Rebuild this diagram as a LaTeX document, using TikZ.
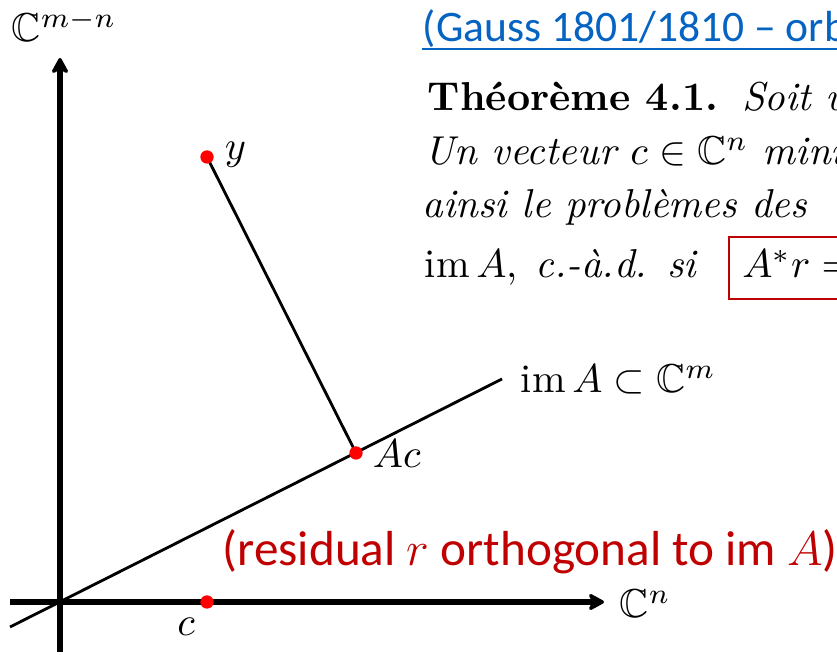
\documentclass[tikz,border=0pt]{standalone}
\usepackage{amsmath,amssymb}
\usepackage{fontspec}
\newfontfamily\slidefont{Carlito}
\definecolor{SlideRed}{RGB}{192,0,0}
\definecolor{LinkBlue}{RGB}{5,99,193}
\definecolor{DotRed}{RGB}{255,0,0}
\usepackage{tikz}
\usetikzlibrary{
    arrows.meta,
    positioning,
}

\begin{document}
\begin{tikzpicture}[
        x=0.248pt, y=-0.248pt,
        axis/.style={line width=1.4pt, -{Stealth[length=4.8pt, width=5.2pt, inset=1.5pt, round]}},
        ptdot/.style={circle, fill=DotRed, inner sep=0pt, minimum size=3.3pt},
        lbl/.style={inner sep=0pt, font=\fontsize{10}{12}\selectfont},
        thmline/.style={anchor=base west, inner sep=0pt, font=\fontsize{10}{12}\selectfont},
        slide/.style={anchor=base west, inner sep=0pt, font=\slidefont\fontsize{#1}{#1}\selectfont},
    ]
        \useasboundingbox (0,0) rectangle (837,655);
        \clip (0,0) rectangle (837,655);
        \coordinate (xfrom) at (10,602);
        \coordinate (xto) at (604,602);
        \coordinate (yfrom) at (60,652);
        \coordinate (yto) at (60,58);
        \coordinate (lfrom) at (10,627);
        \coordinate (lto) at (502,379);
        \coordinate (py) at (207,157);
        \coordinate (pAc) at (356,453);
        \coordinate (pc) at (207,602);
        \draw[axis] (xfrom) -- (xto);
        \draw[axis] (yfrom) -- (yto);
        \draw[line width=0.7pt] (lfrom) -- (lto);
        \draw[line width=0.7pt] (py) -- (pAc);
        \node[ptdot] (ydot) at (py) {};
        \node[ptdot] (Acdot) at (pAc) {};
        \node[ptdot] (cdot) at (pc) {};
        \node[lbl, anchor=west] (ylbl) at (224,155) {$y$};
        \node[lbl, anchor=west] (Aclbl) at (372,454) {$Ac$};
        \node[lbl] (clbl) at (186,627) {$c$};
        \node[lbl, anchor=base west] (Cn) at (619,618) {$\mathbb{C}^n$};
        \node[lbl, anchor=base west] (Cmn) at (11,42) {$\mathbb{C}^{m-n}$};
        \node[lbl, anchor=base west] (imA) at (520,393) {$\operatorname{im}A \subset \mathbb{C}^m$};
        \node[slide=10.8, text=LinkBlue] (gauss) at (422,42) {(Gauss 1801/1810 – orb};
        \draw[LinkBlue, line width=0.5pt] ([yshift=-1.7pt]gauss.base west) -- ([yshift=-1.7pt]gauss.base east);
        \node[thmline] (thm1) at (427,111) {\textbf{Théorème 4.1.}\hspace{6pt}\textit{Soit u}};
        \node[thmline] (thm2) at (424,165) {\textit{Un vecteur $c \in \mathbb{C}^n$ mini}};
        \node[thmline] (thm3) at (422,218) {\textit{ainsi le problèmes des}};
        \node[thmline] (thm4) at (424,278) {$\operatorname{im}A$,\hspace{4.5pt}\textit{c.-à.d.}\hspace{5pt}\textit{si}\hspace{7.4pt}{\setlength{\fboxsep}{3pt}\setlength{\fboxrule}{0.5pt}\fcolorbox{SlideRed}{white}{$A^*r = {}\vphantom{y}$\hspace{30pt}}}};
        \node[slide=12.2, text=SlideRed] (resid) at (222,566) {(residual $r$ orthogonal to im $A$)};
    \end{tikzpicture}
\end{document}
